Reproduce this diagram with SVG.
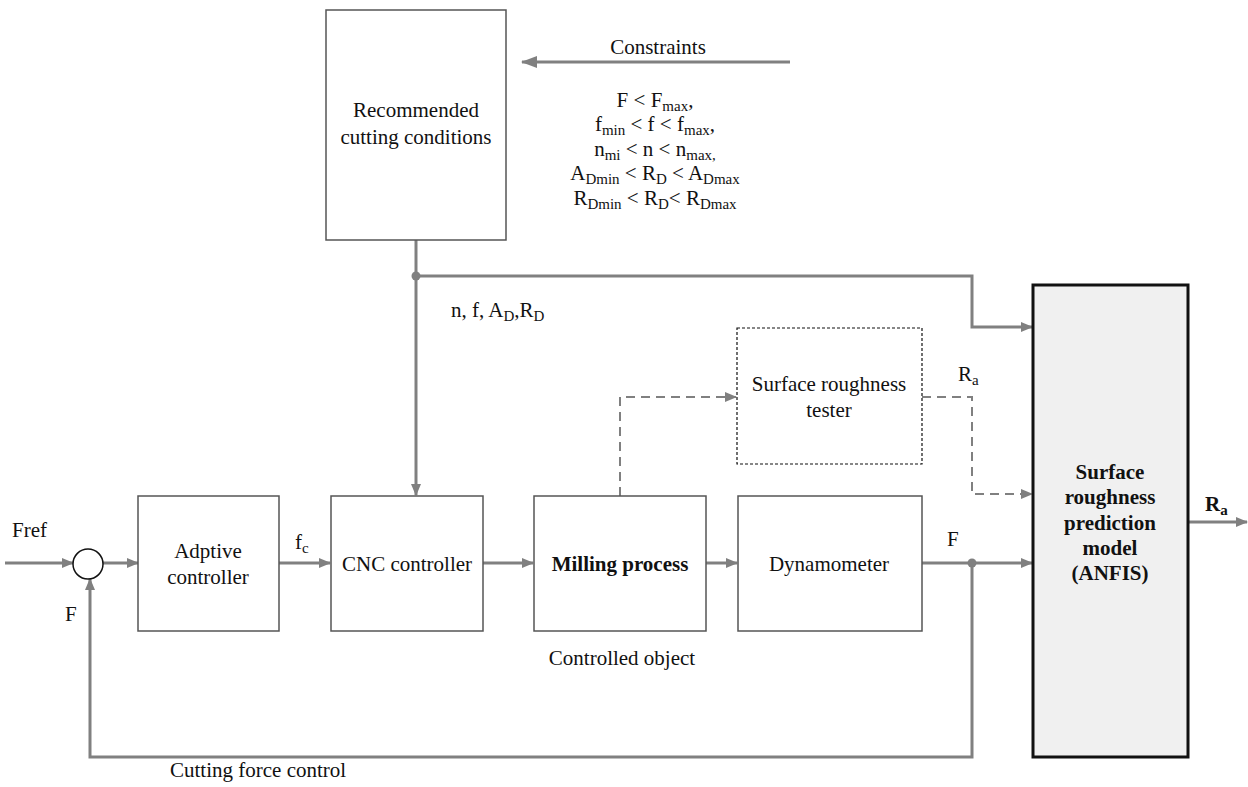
<svg xmlns="http://www.w3.org/2000/svg" width="1248" height="787" viewBox="0 0 1248 787">
<defs>
<style>
.t{font-family:"Liberation Serif","Times New Roman",serif;font-size:21px;fill:#111}
.s{font-size:15px}
.b{font-weight:bold}
.c{text-anchor:middle}
.ln{fill:none;stroke:#808080;stroke-width:3}
.dl{fill:none;stroke:#808080;stroke-width:2;stroke-dasharray:9,6}
.bx{fill:#fff;stroke:#555;stroke-width:1.5}
</style>
<marker id="ah" markerWidth="12" markerHeight="10" refX="11" refY="5" orient="auto" markerUnits="userSpaceOnUse"><path d="M0,0 L12,5 L0,10 z" fill="#808080"/></marker>
<marker id="ah2" markerWidth="16" markerHeight="12" refX="15" refY="6" orient="auto" markerUnits="userSpaceOnUse"><path d="M0,0 L16,6 L0,12 z" fill="#808080"/></marker>
</defs>
<rect width="1248" height="787" fill="#fff"/>

<g id="connectors">
<line class="ln" x1="5" y1="563" x2="73" y2="563" marker-end="url(#ah)"/>
<line class="ln" x1="103" y1="563" x2="138" y2="563" marker-end="url(#ah)"/>
<line class="ln" x1="279" y1="563" x2="330" y2="563" marker-end="url(#ah)"/>
<line class="ln" x1="483" y1="563" x2="533" y2="563" marker-end="url(#ah)"/>
<line class="ln" x1="706" y1="563" x2="737" y2="563" marker-end="url(#ah)"/>
<line class="ln" x1="922" y1="563" x2="1032" y2="563" marker-end="url(#ah)"/>
<polyline class="ln" points="972,563 972,757 90,757 90,579" marker-end="url(#ah)"/>
<line class="ln" x1="416" y1="240" x2="416" y2="495" marker-end="url(#ah)"/>
<polyline class="ln" points="416,276 972,276 972,327 1032,327" marker-end="url(#ah)"/>
<line class="ln" x1="790" y1="62" x2="522" y2="62" stroke-width="4" marker-end="url(#ah2)"/>
<polyline class="dl" points="620,496 620,397 736,397" marker-end="url(#ah)"/>
<polyline class="dl" points="922,397 972,397 972,494 1032,494" marker-end="url(#ah)"/>
<line class="ln" x1="1188" y1="522" x2="1247" y2="522" marker-end="url(#ah)"/>
<circle cx="416" cy="276" r="4.5" fill="#808080"/>
<circle cx="972" cy="563" r="4.5" fill="#808080"/>
</g>

<g id="sum">
<circle cx="88" cy="564" r="15" fill="#fff" stroke="#111" stroke-width="1.5"/>
</g>

<g id="recommended">
<rect class="bx" x="326" y="10" width="180" height="230"/>
<text class="t c" x="416" y="117">Recommended</text>
<text class="t c" x="416" y="144">cutting conditions</text>
</g>

<g id="constraints">
<text class="t c" x="658" y="54">Constraints</text>
<text class="t c" x="655" y="107">F &lt; F<tspan class="s" dy="4">max</tspan><tspan dy="-4">,</tspan></text>
<text class="t c" x="655" y="131">f<tspan class="s" dy="4">min</tspan><tspan dy="-4"> &lt; f &lt; f</tspan><tspan class="s" dy="4">max</tspan><tspan dy="-4">,</tspan></text>
<text class="t c" x="655" y="156">n<tspan class="s" dy="4">mi</tspan><tspan dy="-4"> &lt; n &lt; n</tspan><tspan class="s" dy="4">max,</tspan></text>
<text class="t c" x="655" y="180">A<tspan class="s" dy="4">Dmin</tspan><tspan dy="-4"> &lt; R</tspan><tspan class="s" dy="4">D</tspan><tspan dy="-4"> &lt; A</tspan><tspan class="s" dy="4">Dmax</tspan></text>
<text class="t c" x="655" y="205">R<tspan class="s" dy="4">Dmin</tspan><tspan dy="-4"> &lt; R</tspan><tspan class="s" dy="4">D</tspan><tspan dy="-4">&lt; R</tspan><tspan class="s" dy="4">Dmax</tspan></text>
</g>

<g id="labels">
<text class="t" x="451" y="317">n, f, A<tspan class="s" dy="4">D</tspan><tspan dy="-4">,R</tspan><tspan class="s" dy="4">D</tspan></text>
<text class="t" x="12" y="537">Fref</text>
<text class="t" x="65" y="621">F</text>
<text class="t" x="295" y="549">f<tspan class="s" dy="4">c</tspan></text>
<text class="t" x="947" y="546">F</text>
<text class="t" x="958" y="381">R<tspan class="s" dy="4">a</tspan></text>
<text class="t b" x="1205" y="511">R<tspan class="s" dy="4">a</tspan></text>
<text class="t c" x="622" y="665">Controlled object</text>
<text class="t" x="170" y="777">Cutting force control</text>
</g>

<g id="adaptive">
<rect class="bx" x="138" y="496" width="141" height="135" stroke="#222"/>
<text class="t c" x="208" y="558">Adptive</text>
<text class="t c" x="208" y="584">controller</text>
</g>

<g id="cnc">
<rect class="bx" x="331" y="496" width="152" height="135" stroke="#777"/>
<text class="t c" x="407" y="571">CNC controller</text>
</g>

<g id="milling">
<rect class="bx" x="534" y="496" width="172" height="135" stroke="#111" stroke-width="2"/>
<text class="t c b" x="620" y="571" fill="#333">Milling process</text>
</g>

<g id="dynamometer">
<rect class="bx" x="738" y="496" width="184" height="135" stroke="#777"/>
<text class="t c" x="829" y="571">Dynamometer</text>
</g>

<g id="tester">
<rect x="737" y="328" width="185" height="136" fill="#fff" stroke="#111" stroke-width="1.2" stroke-dasharray="3,2"/>
<text class="t c" x="829" y="391">Surface roughness</text>
<text class="t c" x="829" y="417">tester</text>
</g>

<g id="anfis">
<rect x="1033" y="285" width="155" height="472" fill="#f0f0f0" stroke="#111" stroke-width="3"/>
<text class="t c b" x="1110" y="479">Surface</text>
<text class="t c b" x="1110" y="504">roughness</text>
<text class="t c b" x="1110" y="530">prediction</text>
<text class="t c b" x="1110" y="555">model</text>
<text class="t c b" x="1110" y="580">(ANFIS)</text>
</g>
</svg>
